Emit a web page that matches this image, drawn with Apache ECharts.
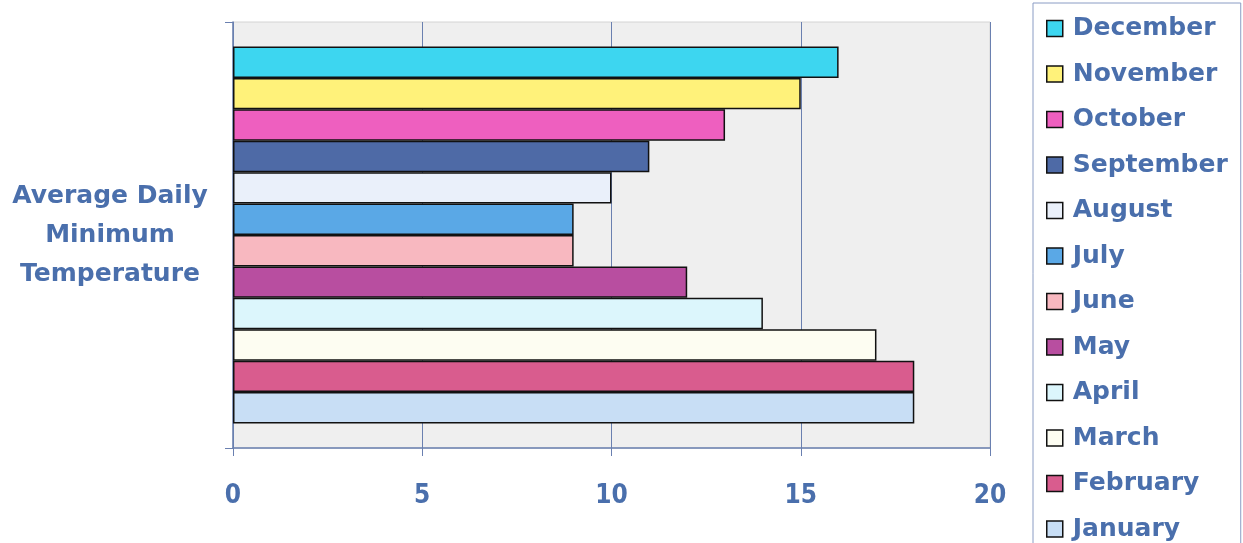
<!DOCTYPE html>
<html>
<head>
  <meta charset="utf-8">
  <title>Average Daily Minimum Temperature</title>
  <script src="https://cdn.jsdelivr.net/npm/echarts@6/dist/echarts.min.js"></script>
  <style>
    html, body { margin: 0; padding: 0; background: #fff; }
    #chart { width: 1243px; height: 543px; }
  </style>
</head>
<body>
<div id="chart"></div>
<script>
  // data
  var category = ['Average Daily\nMinimum\nTemperature'];
  var months = ['January', 'February', 'March', 'April', 'May', 'June',
                'July', 'August', 'September', 'October', 'November', 'December'];
  var temps = [18, 18, 17, 14, 12, 9, 9, 10, 11, 13, 15, 16];
  var colors = ['#c8def5', '#d95c8e', '#fdfdf2', '#dcf6fc', '#b84ea0', '#f8b8c0',
                '#5aa8e6', '#eaf0fa', '#4e6aa6', '#ee5fbf', '#fff27a', '#3dd6f0'];
  var xTicks = [0, 5, 10, 15, 20];

  var textBlue = '#4a6fac';
  var axisBlue = '#6a80b0';
  var chart = echarts.init(document.getElementById('chart'));

  // echarts puts the first series at the top of the band, so December goes first
  var series = [];
  for (var i = months.length - 1; i >= 0; i--) {
    series.push({
      name: months[i],
      type: 'bar',
      barGap: '0%',
      barCategoryGap: '11.5%',
      data: [temps[i]],
      itemStyle: { color: colors[i], borderColor: '#111', borderWidth: 1.5 }
    });
  }

  chart.setOption({
    animation: false,
    textStyle: { fontFamily: 'DejaVu Sans, sans-serif' },
    legend: {
      orient: 'vertical',
      left: 1033,
      top: 3,
      height: 540,
      padding: [13, 13, 2, 13],
      backgroundColor: '#fff',
      borderColor: '#8a9cc4',
      borderWidth: 1,
      itemWidth: 16,
      itemHeight: 16,
      itemGap: 20.5,
      icon: 'rect',
      data: months.slice().reverse(),
      itemStyle: { borderColor: '#111', borderWidth: 1.5 },
      textStyle: {
        color: textBlue, fontSize: 25, fontWeight: 'bold',
        padding: [0, 0, 0, 5]
      }
    },
    grid: {
      left: 233, right: 253, top: 22, bottom: 95,
      show: true,
      backgroundColor: '#efefef',
      borderColor: '#d4d4d4',
      borderWidth: 1
    },
    xAxis: {
      type: 'value',
      min: xTicks[0],
      max: xTicks[xTicks.length - 1],
      interval: 5,
      axisLine: { show: true, lineStyle: { color: axisBlue, width: 1.5 } },
      axisTick: { show: true, length: 8, lineStyle: { color: axisBlue } },
      axisLabel: {
        color: textBlue, fontSize: 26, fontWeight: 'bold', margin: 35,
        fontFamily: 'DejaVu Sans Condensed, DejaVu Sans, sans-serif'
      },
      splitLine: { show: true, lineStyle: { color: axisBlue, width: 1 } }
    },
    yAxis: {
      type: 'category',
      data: category,
      axisLine: { show: true, lineStyle: { color: axisBlue, width: 1.5 } },
      axisTick: { show: true, length: 8, lineStyle: { color: axisBlue } },
      axisLabel: {
        color: textBlue, fontSize: 25, fontWeight: 'bold',
        lineHeight: 39, align: 'center', margin: 123,
        padding: [4, 0, 0, 0]
      }
    },
    series: series
  });
</script>
</body>
</html>
